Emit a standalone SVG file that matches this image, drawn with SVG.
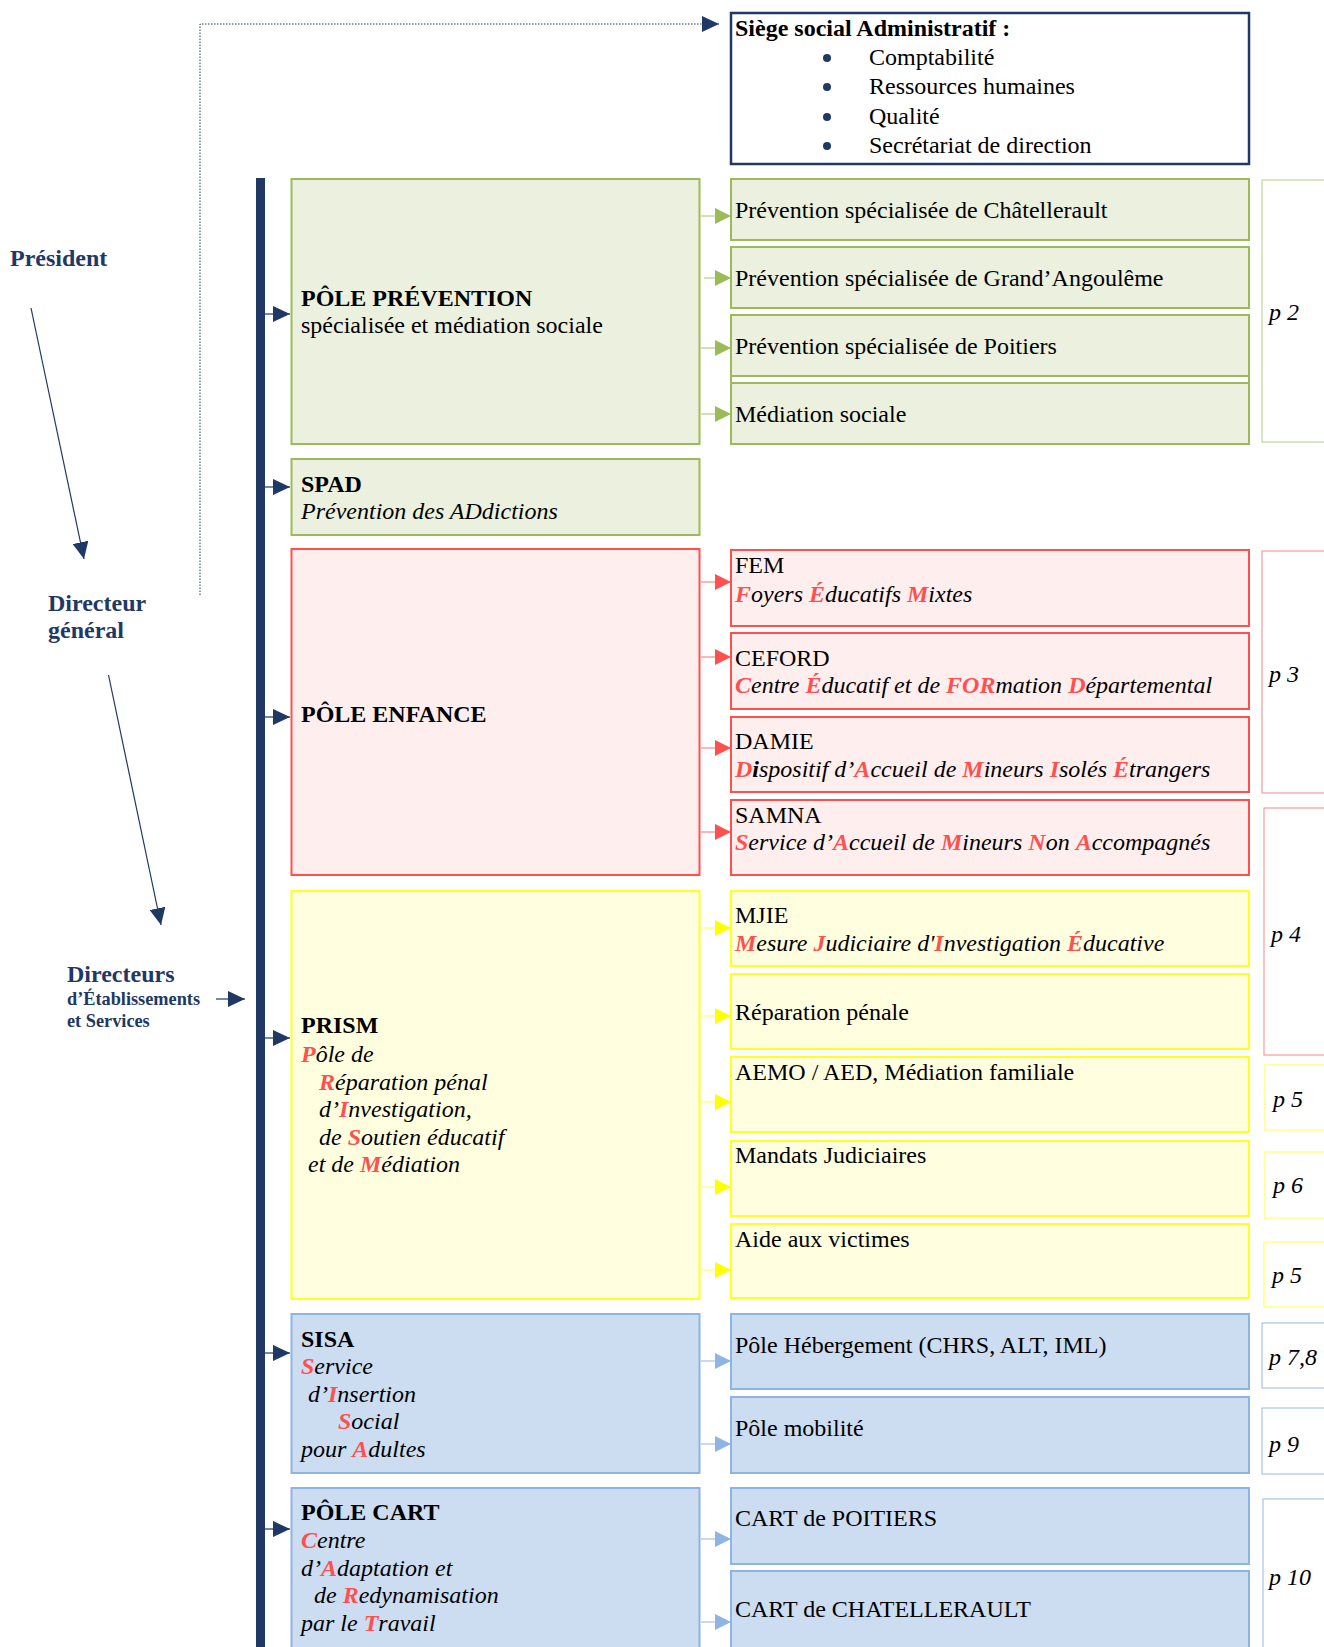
<svg xmlns="http://www.w3.org/2000/svg" width="1324" height="1647" viewBox="0 0 1324 1647">
<style>
text{font-family:"Liberation Serif","Times New Roman",serif;font-size:24px;fill:#000}
.b{font-weight:bold}
.i{font-style:italic}
.nav{fill:#1F3864;font-weight:bold}
.sm{font-size:18.3px}
.r{fill:#FF4F4F;font-weight:bold}
.bk{font-weight:bold}
.g{fill:#EBF1DE;stroke:#9BBB59;stroke-width:2}
.rd{fill:#FFEEEE;stroke:#FF5050;stroke-width:2}
.y{fill:#FFFFDF;stroke:#FFFF22;stroke-width:2}
.bl{fill:#CCDDF2;stroke:#8EB4E3;stroke-width:2}
.pg{fill:#fff;stroke:#C3D69B;stroke-width:1.2}
.pr{fill:#fff;stroke:#F79A9A;stroke-width:1.2}
.py{fill:#fff;stroke:#FFFF66;stroke-width:1.2}
.pb{fill:#fff;stroke:#A9C4E8;stroke-width:1.2}
.cn{stroke:#1F3864;stroke-width:1.2;fill:none;marker-end:url(#mN)}
.cg{stroke:#C3D69B;stroke-width:1.5;marker-end:url(#mG)}
.cr{stroke:#FF9C9C;stroke-width:1.5;marker-end:url(#mR)}
.cy{stroke:#FFFF88;stroke-width:1.5;marker-end:url(#mY)}
.cb{stroke:#B9CDE5;stroke-width:1.5;marker-end:url(#mB)}
</style>
<defs>
<marker id="mN" markerUnits="userSpaceOnUse" markerWidth="17" markerHeight="16" refX="17" refY="8" orient="auto"><path d="M0,0 L17,8 L0,16 z" fill="#1F3864"/></marker>
<marker id="mG" markerUnits="userSpaceOnUse" markerWidth="16" markerHeight="16" refX="16" refY="8" orient="auto"><path d="M0,0 L16,8 L0,16 z" fill="#9BBB59"/></marker>
<marker id="mR" markerUnits="userSpaceOnUse" markerWidth="16" markerHeight="16" refX="16" refY="8" orient="auto"><path d="M0,0 L16,8 L0,16 z" fill="#FF5050"/></marker>
<marker id="mY" markerUnits="userSpaceOnUse" markerWidth="16" markerHeight="16" refX="16" refY="8" orient="auto"><path d="M0,0 L16,8 L0,16 z" fill="#FFFF00"/></marker>
<marker id="mB" markerUnits="userSpaceOnUse" markerWidth="16" markerHeight="16" refX="16" refY="8" orient="auto"><path d="M0,0 L16,8 L0,16 z" fill="#8EB4E3"/></marker>
</defs>
<rect width="1324" height="1647" fill="#fff"/>

<g id="connectors">
<rect x="256" y="178" width="9" height="1480" fill="#1F3864"/>
<path d="M200,595 V24 H719" fill="none" stroke="#1F3864" stroke-width="1" stroke-dasharray="1.5 1.5" marker-end="url(#mN)"/>
<line x1="31" y1="308" x2="84" y2="559" class="cn"/>
<line x1="108.5" y1="675" x2="161" y2="925" class="cn"/>
<line x1="216" y1="999" x2="245" y2="999" class="cn"/>
<line x1="265" y1="314" x2="290" y2="314" class="cn"/>
<line x1="265" y1="487" x2="290" y2="487" class="cn"/>
<line x1="265" y1="717" x2="290" y2="717" class="cn"/>
<line x1="265" y1="1038" x2="290" y2="1038" class="cn"/>
<line x1="265" y1="1353" x2="290" y2="1353" class="cn"/>
<line x1="265" y1="1529" x2="290" y2="1529" class="cn"/>
<line x1="701" y1="216" x2="731" y2="216" class="cg"/>
<line x1="704" y1="278" x2="731" y2="278" class="cg"/>
<line x1="701" y1="348" x2="731" y2="348" class="cg"/>
<line x1="701" y1="414" x2="731" y2="414" class="cg"/>
<line x1="701" y1="582" x2="731" y2="582" class="cr"/>
<line x1="701" y1="657" x2="731" y2="657" class="cr"/>
<line x1="701" y1="748" x2="731" y2="748" class="cr"/>
<line x1="701" y1="832" x2="731" y2="832" class="cr"/>
<line x1="701" y1="928" x2="731" y2="928" class="cy"/>
<line x1="701" y1="1016" x2="731" y2="1016" class="cy"/>
<line x1="701" y1="1102" x2="731" y2="1102" class="cy"/>
<line x1="701" y1="1187" x2="731" y2="1187" class="cy"/>
<line x1="701" y1="1270" x2="731" y2="1270" class="cy"/>
<line x1="701" y1="1361" x2="731" y2="1361" class="cb"/>
<line x1="701" y1="1444" x2="731" y2="1444" class="cb"/>
<line x1="701" y1="1539" x2="731" y2="1539" class="cb"/>
<line x1="701" y1="1622" x2="731" y2="1622" class="cb"/>
</g>

<g id="n-president"><text x="10" y="266" class="nav">Président</text></g>
<g id="n-dg"><text x="48" y="611" class="nav">Directeur</text><text x="48" y="638" class="nav">général</text></g>
<g id="n-directeurs"><text x="67" y="982" class="nav">Directeurs</text><text x="67" y="1005" class="nav sm">d’Établissements</text><text x="67" y="1027" class="nav sm">et Services</text></g>

<g id="n-siege">
<rect x="731" y="13" width="518" height="151" fill="#fff" stroke="#1F3864" stroke-width="2.5"/>
<text x="735" y="36" class="b">Siège social Administratif :</text>
<circle cx="827" cy="58" r="4" fill="#1F3864"/><text x="869" y="65">Comptabilité</text>
<circle cx="827" cy="87" r="4" fill="#1F3864"/><text x="869" y="94">Ressources humaines</text>
<circle cx="827" cy="117" r="4" fill="#1F3864"/><text x="869" y="124">Qualité</text>
<circle cx="827" cy="146" r="4" fill="#1F3864"/><text x="869" y="153">Secrétariat de direction</text>
</g>

<g id="n-prevention"><rect x="291.5" y="179" width="408" height="265" class="g"/>
<text x="301" y="306" class="b">PÔLE PRÉVENTION</text><text x="301" y="333">spécialisée et médiation sociale</text></g>
<g id="n-chat"><rect x="731" y="179" width="518" height="61" class="g"/><text x="735" y="218">Prévention spécialisée de Châtellerault</text></g>
<g id="n-angouleme"><rect x="731" y="247" width="518" height="61" class="g"/><text x="735" y="286">Prévention spécialisée de Grand’Angoulême</text></g>
<g id="n-poitiers"><rect x="731" y="315" width="518" height="61" class="g"/><rect x="731" y="376" width="518" height="7" fill="#fff" stroke="#9BBB59" stroke-width="2"/><text x="735" y="354">Prévention spécialisée de Poitiers</text></g>
<g id="n-mediation"><rect x="731" y="383" width="518" height="61" class="g"/><text x="735" y="422">Médiation sociale</text></g>
<g id="n-p2"><rect x="1262" y="180" width="80" height="262" class="pg"/><text x="1269" y="320" class="i">p 2</text></g>

<g id="n-spad"><rect x="291.5" y="459" width="408" height="76" class="g"/>
<text x="301" y="492" class="b">SPAD</text><text x="301" y="519" class="i">Prévention des ADdictions</text></g>

<g id="n-enfance"><rect x="291.5" y="549" width="408" height="326" class="rd"/>
<text x="301" y="722" class="b">PÔLE ENFANCE</text></g>
<g id="n-fem"><rect x="731" y="550" width="518" height="76" class="rd"/><text x="735" y="573">FEM</text>
<text x="735" y="602" class="i"><tspan class="r">F</tspan>oyers <tspan class="r">É</tspan>ducatifs <tspan class="r">M</tspan>ixtes</text></g>
<g id="n-ceford"><rect x="731" y="633" width="518" height="76" class="rd"/><text x="735" y="666">CEFORD</text>
<text x="735" y="693" class="i"><tspan class="r">C</tspan>entre <tspan class="r">É</tspan>ducatif et de <tspan class="r">FOR</tspan>mation <tspan class="r">D</tspan>épartemental</text></g>
<g id="n-damie"><rect x="731" y="717" width="518" height="75" class="rd"/><text x="735" y="749">DAMIE</text>
<text x="735" y="777" class="i"><tspan class="r">D</tspan><tspan class="bk">i</tspan>spositif d’<tspan class="r">A</tspan>ccueil de <tspan class="r">M</tspan>ineurs <tspan class="r">I</tspan>solés <tspan class="r">É</tspan>trangers</text></g>
<g id="n-samna"><rect x="731" y="800" width="518" height="75" class="rd"/><text x="735" y="823">SAMNA</text>
<text x="735" y="850" class="i"><tspan class="r">S</tspan>ervice d’<tspan class="r">A</tspan>ccueil de <tspan class="r">M</tspan>ineurs <tspan class="r">N</tspan>on <tspan class="r">A</tspan>ccompagnés</text></g>
<g id="n-p3"><rect x="1262" y="551" width="80" height="242" class="pr"/><text x="1269" y="682" class="i">p 3</text></g>
<g id="n-p4"><rect x="1264" y="808" width="80" height="247" class="pr"/><text x="1271" y="942" class="i">p 4</text></g>

<g id="n-prism"><rect x="291.5" y="891" width="408" height="408" class="y"/>
<text x="301" y="1033" class="b">PRISM</text>
<text x="301" y="1062" class="i"><tspan class="r">P</tspan>ôle de</text>
<text x="319" y="1090" class="i"><tspan class="r">R</tspan>éparation pénal</text>
<text x="319" y="1117" class="i">d’<tspan class="r">I</tspan>nvestigation,</text>
<text x="319" y="1145" class="i">de <tspan class="r">S</tspan>outien éducatif</text>
<text x="308" y="1172" class="i">et de <tspan class="r">M</tspan>édiation</text></g>
<g id="n-mjie"><rect x="731" y="891" width="518" height="75" class="y"/><text x="735" y="923">MJIE</text>
<text x="735" y="951" class="i"><tspan class="r">M</tspan>esure <tspan class="r">J</tspan>udiciaire d'<tspan class="r">I</tspan>nvestigation <tspan class="r">É</tspan>ducative</text></g>
<g id="n-reparation"><rect x="731" y="974" width="518" height="75" class="y"/><text x="735" y="1020">Réparation pénale</text></g>
<g id="n-aemo"><rect x="731" y="1057" width="518" height="75" class="y"/><text x="735" y="1080">AEMO / AED, Médiation familiale</text></g>
<g id="n-mandats"><rect x="731" y="1141" width="518" height="75" class="y"/><text x="735" y="1163">Mandats Judiciaires</text></g>
<g id="n-aide"><rect x="731" y="1224" width="518" height="74" class="y"/><text x="735" y="1247">Aide aux victimes</text></g>
<g id="n-p5a"><rect x="1265" y="1065" width="80" height="65" class="py"/><text x="1273" y="1107" class="i">p 5</text></g>
<g id="n-p6"><rect x="1265" y="1152" width="80" height="66" class="py"/><text x="1273" y="1193" class="i">p 6</text></g>
<g id="n-p5b"><rect x="1264" y="1242" width="80" height="65" class="py"/><text x="1272" y="1283" class="i">p 5</text></g>

<g id="n-sisa"><rect x="291.5" y="1314" width="408" height="159" class="bl"/>
<text x="301" y="1347" class="b">SISA</text>
<text x="301" y="1374" class="i"><tspan class="r">S</tspan>ervice</text>
<text x="308" y="1402" class="i">d’<tspan class="r">I</tspan>nsertion</text>
<text x="338" y="1429" class="i"><tspan class="r">S</tspan>ocial</text>
<text x="301" y="1457" class="i">pour <tspan class="r">A</tspan>dultes</text></g>
<g id="n-hebergement"><rect x="731" y="1314" width="518" height="75" class="bl"/><text x="735" y="1353">Pôle Hébergement (CHRS, ALT, IML)</text></g>
<g id="n-mobilite"><rect x="731" y="1397" width="518" height="76" class="bl"/><text x="735" y="1436">Pôle mobilité</text></g>
<g id="n-p78"><rect x="1262" y="1323" width="80" height="65" class="pb"/><text x="1269" y="1365" class="i">p 7,8</text></g>
<g id="n-p9"><rect x="1262" y="1408" width="80" height="66" class="pb"/><text x="1269" y="1452" class="i">p 9</text></g>

<g id="n-cart"><rect x="291.5" y="1488" width="408" height="175" class="bl"/>
<text x="301" y="1520" class="b">PÔLE CART</text>
<text x="301" y="1548" class="i"><tspan class="r">C</tspan>entre</text>
<text x="301" y="1576" class="i">d’<tspan class="r">A</tspan>daptation et</text>
<text x="314" y="1603" class="i">de <tspan class="r">R</tspan>edynamisation</text>
<text x="301" y="1631" class="i">par le <tspan class="r">T</tspan>ravail</text></g>
<g id="n-cart-poitiers"><rect x="731" y="1488" width="518" height="76" class="bl"/><text x="735" y="1526">CART de POITIERS</text></g>
<g id="n-cart-chat"><rect x="731" y="1571" width="518" height="90" class="bl"/><text x="735" y="1617">CART de CHATELLERAULT</text></g>
<g id="n-p10"><rect x="1263" y="1499" width="80" height="160" class="pb"/><text x="1269" y="1585" class="i">p 10</text></g>
</svg>
